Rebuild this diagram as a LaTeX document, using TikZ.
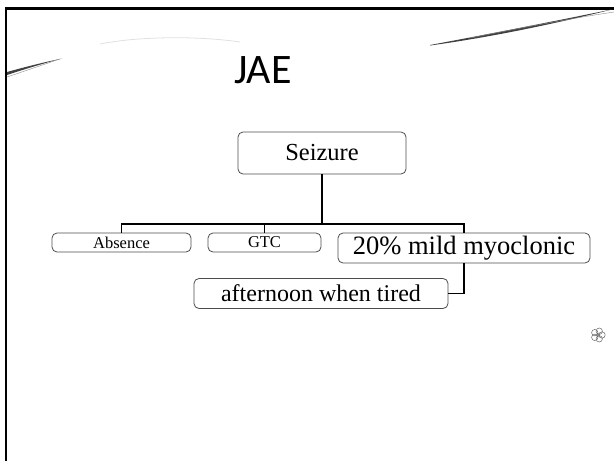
\documentclass[tikz,border=0pt]{standalone}
\usepackage{fontspec}
\setmainfont{Liberation Serif}
\newfontfamily\titlefont{Carlito}
\usepackage{tikz}
\usetikzlibrary{positioning}

\tikzset{
  itembox/.style={draw=black!70,line width=0.8pt,rounded corners=5pt,inner sep=0pt},
  branch/.style={line width=1.8pt,black},
}

\begin{document}
\begin{tikzpicture}[x=1pt,y=-1pt]
 \useasboundingbox (0,0) rectangle (614,461);
 % slide frame and swooshes
 \draw[line width=2.5pt] (6,461) -- (6,8.5) -- (614,8.5);
 \fill[black!75] (7,72) .. controls (25,67) and (45,62) .. (62,58.5)
   .. controls (45,63) and (25,69) .. (7,75) -- cycle;
 \draw[black!45,line width=0.4pt] (7,77) .. controls (25,71) and (45,64) .. (60,59);
 \fill[black!75] (430,45) .. controls (500,32) and (570,18) .. (614,9)
   .. controls (570,20) and (500,36) .. (430,45.5) -- cycle;
 \draw[black!45,line width=0.4pt] (470,38) .. controls (530,26) and (580,17) .. (614,12);
 \draw[black!12,line width=0.8pt] (100,44) .. controls (140,36) and (200,36) .. (240,42);
 % title
 \node[font=\titlefont\fontsize{42}{46}\selectfont] (title) at (263,70) {JAE};
 % tree
 \node[itembox,minimum width=168pt,minimum height=42pt,font=\fontsize{24.5}{28}\selectfont] (seizure) at (322,153) {Seizure};
 \node[itembox,minimum width=139pt,minimum height=19pt,font=\fontsize{16.5}{18}\selectfont] (absence) at (121.5,242.5) {Absence};
 \node[itembox,minimum width=113pt,minimum height=19pt,font=\fontsize{16.5}{18}\selectfont] (gtc) at (264.5,242.5) {GTC};
 \node[itembox,minimum width=252pt,minimum height=30pt,font=\fontsize{26.5}{30}\selectfont] (myo) at (464,248) {20\% mild myoclonic};
 \node[itembox,minimum width=254pt,minimum height=30pt,font=\fontsize{24}{27}\selectfont] (tired) at (321,293.5) {afternoon when tired};
 \coordinate (bar) at (322,224);
 \draw[branch] (seizure.south) -- (bar);
 \draw[branch] (absence.north) |- (bar) -| (myo.north);
 \draw[branch] (gtc.north) -- (gtc.north |- bar);
 \draw[branch] (myo.south) |- (tired.east);
 % small flower mark
 \foreach \a in {0,72,...,288}
   \draw[black!60,line width=0.5pt] (598,335) ++(\a:4) circle (3.2);
 \draw[black!60,line width=0.5pt] (598,335) circle (1.5);
\end{tikzpicture}
\end{document}
